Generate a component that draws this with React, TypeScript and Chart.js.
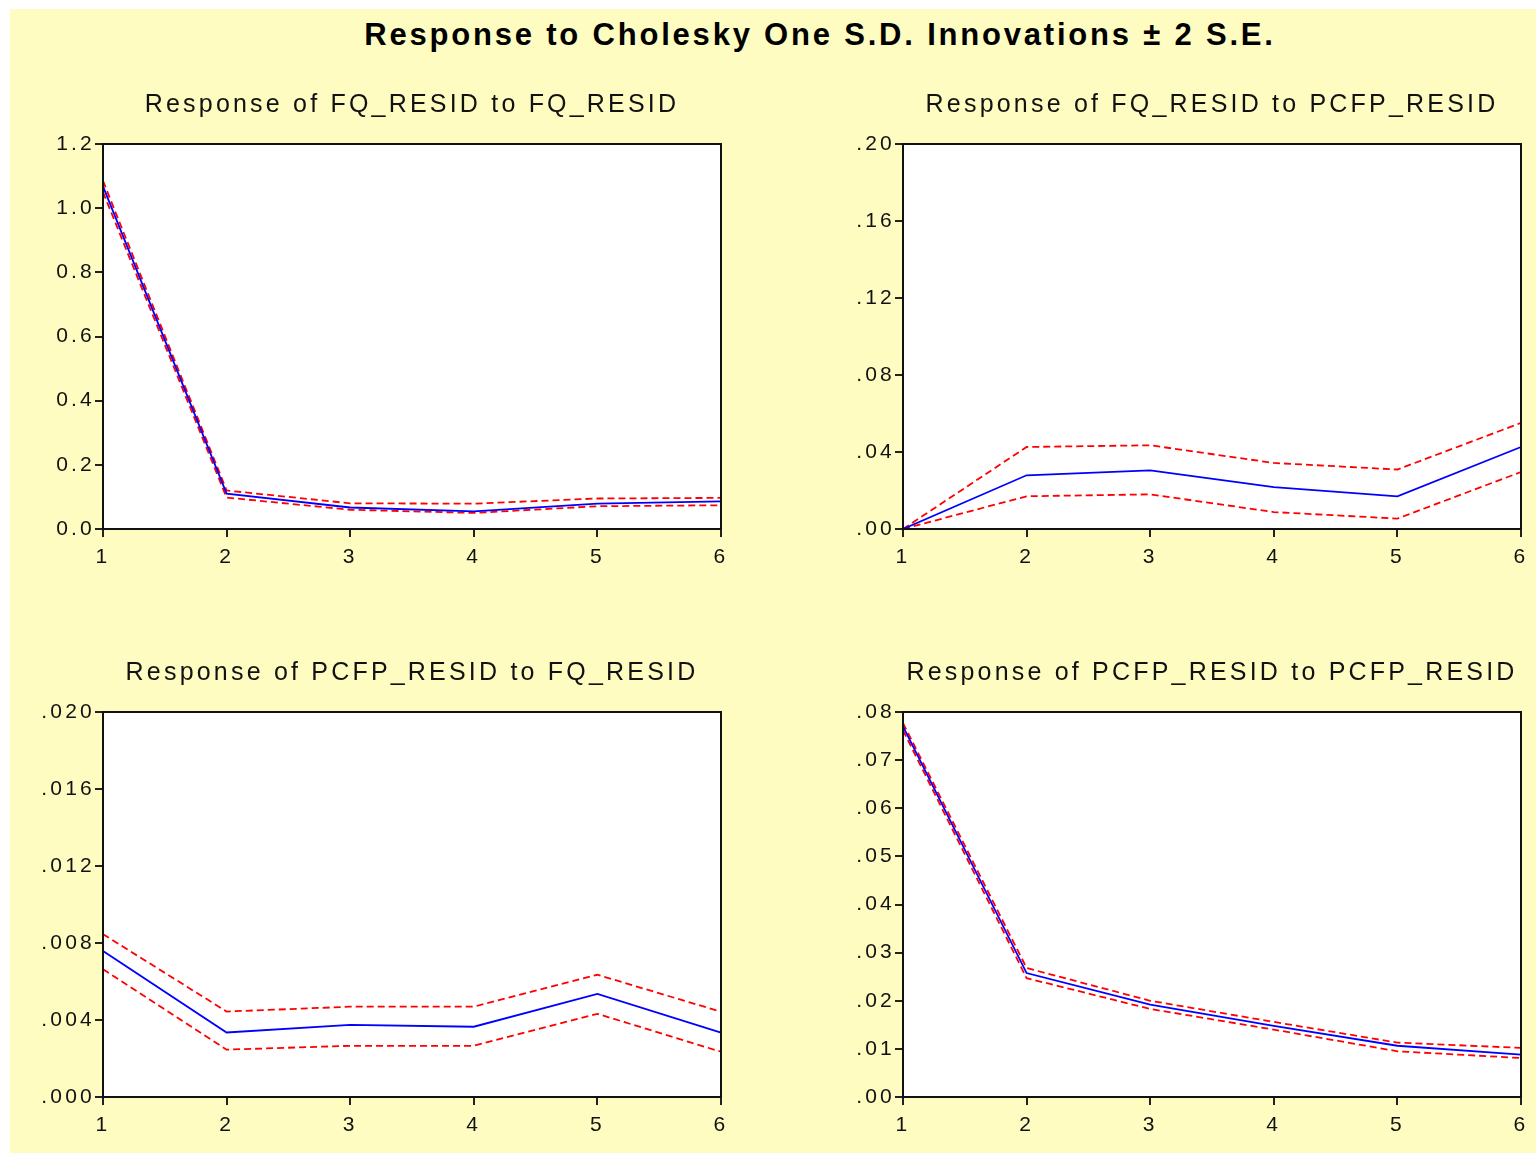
import React, { useEffect, useRef } from "react";
import { Chart, registerables } from "chart.js";

Chart.register(...registerables);

// ---------- data ----------
const periods = ["1", "2", "3", "4", "5", "6"];

const mainTitle = "Response to Cholesky One S.D. Innovations \u00b1 2 S.E.";

const title1 = "Response of FQ_RESID to FQ_RESID";
const resp1 = [1.068, 0.11, 0.067, 0.055, 0.079, 0.086];
const upper1 = [1.085, 0.12, 0.08, 0.079, 0.095, 0.097];
const lower1 = [1.05, 0.098, 0.06, 0.05, 0.071, 0.074];
const yTicks1 = [0, 0.2, 0.4, 0.6, 0.8, 1.0, 1.2];
const yLabels1 = ["0.0", "0.2", "0.4", "0.6", "0.8", "1.0", "1.2"];

const title2 = "Response of FQ_RESID to PCFP_RESID";
const resp2 = [0, 0.0279, 0.0305, 0.0218, 0.017, 0.0426];
const upper2 = [0, 0.0426, 0.0435, 0.0343, 0.0309, 0.0551];
const lower2 = [0, 0.017, 0.018, 0.0088, 0.0054, 0.0296];
const yTicks2 = [0, 0.04, 0.08, 0.12, 0.16, 0.2];
const yLabels2 = [".00", ".04", ".08", ".12", ".16", ".20"];

const title3 = "Response of PCFP_RESID to FQ_RESID";
const resp3 = [0.00759, 0.00335, 0.00375, 0.00365, 0.00536, 0.00334];
const upper3 = [0.00846, 0.00444, 0.00469, 0.00469, 0.00635, 0.00443];
const lower3 = [0.00664, 0.00246, 0.00266, 0.00266, 0.00432, 0.00235];
const yTicks3 = [0, 0.004, 0.008, 0.012, 0.016, 0.02];
const yLabels3 = [".000", ".004", ".008", ".012", ".016", ".020"];

const title4 = "Response of PCFP_RESID to PCFP_RESID";
const resp4 = [0.077, 0.02575, 0.0192, 0.0148, 0.01065, 0.0088];
const upper4 = [0.0777, 0.0268, 0.02, 0.0156, 0.0113, 0.0102];
const lower4 = [0.0762, 0.0247, 0.0183, 0.014, 0.0095, 0.0081];
const yTicks4 = [0, 0.01, 0.02, 0.03, 0.04, 0.05, 0.06, 0.07, 0.08];
const yLabels4 = [".00", ".01", ".02", ".03", ".04", ".05", ".06", ".07", ".08"];

// ---------- layout ----------
const FONT = "'Liberation Sans', Arial, sans-serif";
const LEFT = 100;
const TOP = 80;
const BOTTOM = 50;
const RIGHT = 16;
const PLOT_W = 618;
const PLOT_H = 385;

type PanelDef = {
  title: string;
  resp: number[];
  upper: number[];
  lower: number[];
  yTicks: number[];
  yLabels: string[];
  plotLeft: number;
  plotTop: number;
};

const panels: PanelDef[] = [
  { title: title1, resp: resp1, upper: upper1, lower: lower1, yTicks: yTicks1, yLabels: yLabels1, plotLeft: 103, plotTop: 144 },
  { title: title2, resp: resp2, upper: upper2, lower: lower2, yTicks: yTicks2, yLabels: yLabels2, plotLeft: 903, plotTop: 144 },
  { title: title3, resp: resp3, upper: upper3, lower: lower3, yTicks: yTicks3, yLabels: yLabels3, plotLeft: 103, plotTop: 712 },
  { title: title4, resp: resp4, upper: upper4, lower: lower4, yTicks: yTicks4, yLabels: yLabels4, plotLeft: 903, plotTop: 712 },
];

const framePlugin = {
  id: "frame",
  beforeDraw(chart: any) {
    const { ctx, chartArea } = chart;
    const { left, top, right, bottom } = chartArea;
    ctx.save();
    ctx.fillStyle = "#ffffff";
    ctx.fillRect(left, top, right - left, bottom - top);
    ctx.restore();
    ctx.letterSpacing = "3.2px";
  },
  afterDatasetsDraw(chart: any) {
    const { ctx, chartArea } = chart;
    const { left, top, right, bottom } = chartArea;
    ctx.save();
    ctx.strokeStyle = "#111111";
    ctx.lineWidth = 2;
    ctx.strokeRect(left, top, right - left, bottom - top);
    ctx.restore();
  },
};

function IrfPanel({ panel }: { panel: PanelDef }) {
  const ref = useRef<HTMLCanvasElement>(null);
  const width = LEFT + PLOT_W + RIGHT;
  const height = TOP + PLOT_H + BOTTOM;

  useEffect(() => {
    const canvas = ref.current;
    if (!canvas) return;
    const tickFont = { family: FONT, size: 21 };
    const chart = new Chart(canvas, {
      type: "line",
      data: {
        labels: periods,
        datasets: [
          {
            data: panel.resp,
            borderColor: "#0000ff",
            borderWidth: 1.8,
            pointRadius: 0,
            tension: 0,
            fill: false,
          },
          {
            data: panel.upper,
            borderColor: "#ff0000",
            borderWidth: 1.8,
            borderDash: [7, 4],
            pointRadius: 0,
            tension: 0,
            fill: false,
          },
          {
            data: panel.lower,
            borderColor: "#ff0000",
            borderWidth: 1.8,
            borderDash: [7, 4],
            pointRadius: 0,
            tension: 0,
            fill: false,
          },
        ],
      },
      options: {
        animation: false,
        responsive: false,
        devicePixelRatio: 1,
        layout: { padding: { left: 0, right: RIGHT, top: 0, bottom: 0 } },
        plugins: {
          legend: { display: false },
          tooltip: { enabled: false },
          title: {
            display: true,
            text: panel.title,
            fullSize: false,
            color: "#111111",
            font: { family: FONT, size: 25, weight: "normal", lineHeight: 1.2 },
            padding: { top: 26, bottom: 24 },
          },
        },
        scales: {
          x: {
            type: "category",
            offset: false,
            grid: {
              offset: false,
              drawOnChartArea: false,
              drawTicks: true,
              tickLength: 8,
              color: "#222222",
              lineWidth: 2,
            },
            border: { display: false },
            ticks: {
              font: tickFont,
              color: "#111111",
              padding: 8,
              maxRotation: 0,
              autoSkip: false,
            },
            afterFit: (s: any) => {
              s.height = BOTTOM;
            },
          },
          y: {
            type: "linear",
            min: panel.yTicks[0],
            max: panel.yTicks[panel.yTicks.length - 1],
            grid: {
              drawOnChartArea: false,
              drawTicks: true,
              tickLength: 8,
              color: "#222222",
              lineWidth: 2,
            },
            border: { display: false },
            ticks: {
              font: tickFont,
              color: "#111111",
              padding: 0,
              callback: (_v: any, i: number) => panel.yLabels[i],
            },
            afterBuildTicks: (s: any) => {
              s.ticks = panel.yTicks.map((v) => ({ value: v }));
            },
            afterFit: (s: any) => {
              s.width = LEFT;
            },
          },
        },
      } as any,
      plugins: [framePlugin],
    });
    return () => chart.destroy();
  }, [panel]);

  return (
    <canvas
      ref={ref}
      width={width}
      height={height}
      style={{
        position: "absolute",
        left: panel.plotLeft - LEFT,
        top: panel.plotTop - TOP,
        width,
        height,
        display: "block",
      }}
    />
  );
}

export default function App() {
  return (
    <div
      style={{
        position: "absolute",
        left: 0,
        top: 0,
        width: 1538,
        height: 1155,
        overflow: "hidden",
        background: "#ffffff",
      }}
    >
      <div
        style={{
          position: "absolute",
          left: 10,
          top: 9,
          width: 1526,
          height: 1144,
          background: "#fefcc0",
        }}
      />
      <div
        style={{
          position: "absolute",
          left: 0,
          top: 19,
          width: 1640,
          textAlign: "center",
          fontFamily: FONT,
          fontWeight: "bold",
          fontSize: 31,
          lineHeight: "31px",
          letterSpacing: "2.8px",
          color: "#000000",
          whiteSpace: "nowrap",
        }}
      >
        {mainTitle}
      </div>
      {panels.map((p, i) => (
        <IrfPanel key={i} panel={p} />
      ))}
    </div>
  );
}
